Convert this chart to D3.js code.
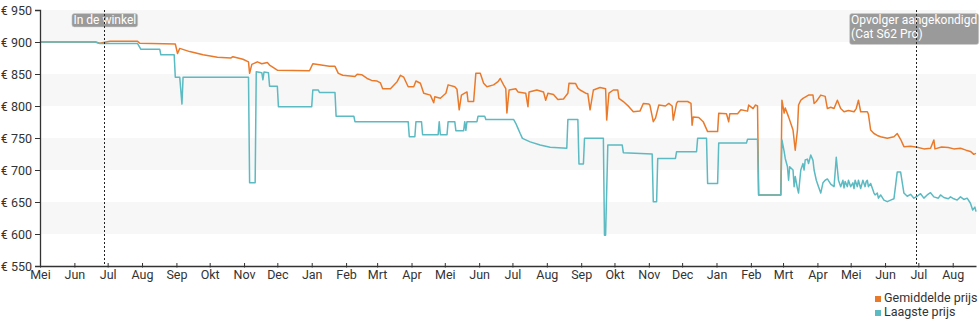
<!DOCTYPE html>
<html>
<head>
<meta charset="utf-8">
<script src="https://cdn.jsdelivr.net/npm/d3@7"></script>
<style>
  html, body { margin: 0; padding: 0; background: #fff; }
  svg { display: block; font-family: Roboto, "Noto Sans", sans-serif; }
</style>
</head>
<body>
<svg id="chart" width="980" height="325"></svg>
<script>
// Price history (EUR): average price and lowest price per date
const averagePrice = [
  ["2018-05-01", 900], ["2018-06-20", 900], ["2018-06-24", 898], ["2018-07-03", 901],
  ["2018-07-28", 901], ["2018-07-30", 898], ["2018-08-31", 897], ["2018-09-02", 882],
  ["2018-09-04", 890], ["2018-09-13", 885], ["2018-09-25", 880], ["2018-10-08", 876],
  ["2018-10-20", 875], ["2018-10-22", 877], ["2018-10-31", 873], ["2018-11-05", 869],
  ["2018-11-06", 851], ["2018-11-08", 865], ["2018-11-13", 869], ["2018-11-17", 866],
  ["2018-11-22", 868], ["2018-11-24", 864], ["2018-12-01", 856], ["2018-12-30", 855],
  ["2019-01-02", 866], ["2019-01-17", 862], ["2019-01-22", 862], ["2019-01-25", 851],
  ["2019-01-29", 848], ["2019-02-09", 846], ["2019-02-11", 849.5], ["2019-02-15", 849],
  ["2019-02-20", 843], ["2019-02-24", 840], ["2019-03-01", 839], ["2019-03-04", 836],
  ["2019-03-06", 827], ["2019-03-13", 827], ["2019-03-19", 838], ["2019-03-22", 848],
  ["2019-03-25", 845], ["2019-03-29", 830], ["2019-04-03", 830], ["2019-04-05", 839],
  ["2019-04-09", 835.5], ["2019-04-12", 820], ["2019-04-18", 817], ["2019-04-21", 805],
  ["2019-04-22", 814.5], ["2019-04-27", 812], ["2019-05-02", 820], ["2019-05-04", 833],
  ["2019-05-10", 830], ["2019-05-12", 826], ["2019-05-14", 794], ["2019-05-16", 817],
  ["2019-05-19", 820], ["2019-05-21", 822], ["2019-05-22", 807], ["2019-05-27", 807],
  ["2019-05-29", 851], ["2019-06-02", 851], ["2019-06-05", 835.5], ["2019-06-08", 830],
  ["2019-06-14", 833], ["2019-06-18", 838], ["2019-06-20", 843], ["2019-06-23", 833],
  ["2019-06-25", 827], ["2019-06-26", 789], ["2019-06-28", 825], ["2019-07-04", 827],
  ["2019-07-06", 822], ["2019-07-13", 820], ["2019-07-15", 799], ["2019-07-16", 822],
  ["2019-07-23", 825], ["2019-07-29", 822], ["2019-07-31", 809], ["2019-08-02", 820],
  ["2019-08-07", 818], ["2019-08-11", 810], ["2019-08-16", 811], ["2019-08-20", 820],
  ["2019-08-21", 835.5], ["2019-08-27", 835], ["2019-08-29", 828], ["2019-08-31", 825],
  ["2019-09-05", 820], ["2019-09-07", 819], ["2019-09-09", 794], ["2019-09-12", 825],
  ["2019-09-18", 829], ["2019-09-23", 827], ["2019-09-24", 778], ["2019-09-26", 820],
  ["2019-09-30", 825], ["2019-10-04", 825], ["2019-10-05", 812], ["2019-10-09", 807],
  ["2019-10-14", 799], ["2019-10-18", 791], ["2019-10-24", 792], ["2019-10-27", 804],
  ["2019-11-01", 803], ["2019-11-02", 801], ["2019-11-05", 775.5], ["2019-11-07", 781],
  ["2019-11-10", 801.5], ["2019-11-16", 800], ["2019-11-19", 804], ["2019-11-22", 800],
  ["2019-11-23", 778], ["2019-11-26", 804], ["2019-11-27", 807], ["2019-12-06", 807],
  ["2019-12-09", 804], ["2019-12-10", 770], ["2019-12-11", 783], ["2019-12-16", 782],
  ["2019-12-20", 775.5], ["2019-12-24", 760], ["2020-01-02", 760], ["2020-01-03", 788.5],
  ["2020-01-10", 788], ["2020-01-12", 775.5], ["2020-01-13", 788], ["2020-01-20", 788],
  ["2020-01-23", 794], ["2020-01-29", 792], ["2020-01-30", 801.5], ["2020-02-03", 796],
  ["2020-02-05", 801.5], ["2020-02-07", 800], ["2020-02-08", 661], ["2020-02-28", 661],
  ["2020-02-29", 809], ["2020-03-02", 789], ["2020-03-03", 797], ["2020-03-06", 783],
  ["2020-03-10", 762.5], ["2020-03-12", 731], ["2020-03-14", 762.5], ["2020-03-15", 801.5],
  ["2020-03-17", 809], ["2020-03-19", 812], ["2020-03-24", 817], ["2020-03-28", 817],
  ["2020-03-29", 804], ["2020-03-31", 807], ["2020-04-04", 817], ["2020-04-08", 815],
  ["2020-04-10", 796], ["2020-04-13", 798], ["2020-04-16", 796], ["2020-04-19", 809],
  ["2020-04-22", 796], ["2020-04-25", 791], ["2020-04-29", 793], ["2020-05-04", 791],
  ["2020-05-06", 796], ["2020-05-08", 809], ["2020-05-10", 791], ["2020-05-16", 791],
  ["2020-05-17", 787], ["2020-05-19", 762.5], ["2020-05-22", 757], ["2020-05-25", 754],
  ["2020-05-28", 752], ["2020-06-03", 749.5], ["2020-06-09", 752], ["2020-06-12", 757],
  ["2020-06-15", 748], ["2020-06-18", 736.5], ["2020-06-24", 737], ["2020-06-30", 735.5],
  ["2020-07-06", 733], ["2020-07-12", 734], ["2020-07-15", 747], ["2020-07-16", 733],
  ["2020-07-22", 736], ["2020-07-28", 735], ["2020-08-02", 733], ["2020-08-08", 734],
  ["2020-08-13", 731], ["2020-08-17", 729], ["2020-08-20", 724.5], ["2020-08-22", 726]
];

const lowestPrice = [
  ["2018-05-01", 900], ["2018-06-20", 900], ["2018-06-24", 897.5], ["2018-07-28", 897.5],
  ["2018-07-31", 888.5], ["2018-08-17", 888.5], ["2018-08-18", 880], ["2018-08-30", 880],
  ["2018-08-31", 845], ["2018-09-04", 845], ["2018-09-06", 803], ["2018-09-07", 845],
  ["2018-11-05", 845], ["2018-11-06", 680], ["2018-11-11", 680], ["2018-11-12", 853.6],
  ["2018-11-17", 852], ["2018-11-18", 841], ["2018-11-19", 853], ["2018-11-23", 852],
  ["2018-11-24", 831], ["2018-12-01", 831], ["2018-12-02", 799], ["2019-01-01", 799],
  ["2019-01-02", 825], ["2019-01-07", 825], ["2019-01-08", 821], ["2019-01-22", 821],
  ["2019-01-23", 784], ["2019-02-08", 784], ["2019-02-09", 775.5], ["2019-03-29", 775.5],
  ["2019-03-30", 752], ["2019-04-04", 752], ["2019-04-05", 775.5], ["2019-04-10", 775.5],
  ["2019-04-11", 755], ["2019-04-25", 755], ["2019-04-26", 775.5], ["2019-04-27", 755],
  ["2019-05-03", 755], ["2019-05-04", 775.5], ["2019-05-10", 775.5], ["2019-05-11", 761.4],
  ["2019-05-18", 761.4], ["2019-05-19", 775.5], ["2019-05-20", 762], ["2019-05-21", 775.5],
  ["2019-05-30", 775.5], ["2019-05-31", 784], ["2019-06-06", 784], ["2019-06-07", 779],
  ["2019-07-02", 779], ["2019-07-04", 773], ["2019-07-06", 765], ["2019-07-08", 757],
  ["2019-07-10", 749.5], ["2019-07-17", 744], ["2019-07-26", 739], ["2019-08-04", 735.5],
  ["2019-08-19", 734], ["2019-08-20", 779], ["2019-08-29", 779], ["2019-08-30", 709.4],
  ["2019-09-03", 709.4], ["2019-09-04", 749.5], ["2019-09-21", 749.5], ["2019-09-22", 598],
  ["2019-09-23", 598], ["2019-09-25", 739], ["2019-10-08", 739], ["2019-10-09", 727],
  ["2019-11-04", 725], ["2019-11-05", 650.5], ["2019-11-08", 650.5], ["2019-11-09", 718],
  ["2019-11-25", 718], ["2019-11-26", 728.6], ["2019-12-14", 728.6], ["2019-12-15", 749.5],
  ["2019-12-23", 749.5], ["2019-12-24", 679], ["2020-01-02", 679], ["2020-01-03", 742],
  ["2020-01-28", 742], ["2020-01-29", 748], ["2020-02-07", 748], ["2020-02-08", 661],
  ["2020-02-28", 661], ["2020-02-29", 747], ["2020-03-02", 729], ["2020-03-03", 718],
  ["2020-03-05", 705], ["2020-03-06", 684], ["2020-03-07", 705], ["2020-03-10", 700],
  ["2020-03-11", 674], ["2020-03-12", 690], ["2020-03-14", 671], ["2020-03-15", 664],
  ["2020-03-17", 700], ["2020-03-19", 710], ["2020-03-20", 700], ["2020-03-21", 715.6],
  ["2020-03-23", 717], ["2020-03-24", 710], ["2020-03-26", 723.4], ["2020-03-28", 715],
  ["2020-03-29", 700], ["2020-03-31", 684], ["2020-04-02", 674], ["2020-04-04", 664],
  ["2020-04-06", 680], ["2020-04-08", 684], ["2020-04-10", 686], ["2020-04-13", 678],
  ["2020-04-16", 674], ["2020-04-18", 720], ["2020-04-20", 684], ["2020-04-22", 674],
  ["2020-04-24", 684], ["2020-04-25", 672], ["2020-04-26", 682], ["2020-04-28", 674],
  ["2020-04-29", 684], ["2020-05-01", 674], ["2020-05-03", 680], ["2020-05-04", 671],
  ["2020-05-05", 684], ["2020-05-07", 674], ["2020-05-08", 684], ["2020-05-10", 671],
  ["2020-05-12", 684], ["2020-05-14", 674], ["2020-05-15", 682], ["2020-05-16", 684],
  ["2020-05-17", 674], ["2020-05-19", 679], ["2020-05-21", 669], ["2020-05-22", 664],
  ["2020-05-23", 661], ["2020-05-25", 664], ["2020-05-26", 656], ["2020-05-28", 661],
  ["2020-05-31", 653], ["2020-06-03", 650.5], ["2020-06-06", 653], ["2020-06-09", 655],
  ["2020-06-12", 697], ["2020-06-15", 697], ["2020-06-18", 664], ["2020-06-21", 659],
  ["2020-06-24", 662], ["2020-06-27", 656], ["2020-06-30", 659], ["2020-07-03", 663],
  ["2020-07-06", 656], ["2020-07-09", 661], ["2020-07-12", 664.5], ["2020-07-15", 658],
  ["2020-07-19", 656], ["2020-07-21", 661], ["2020-07-24", 657], ["2020-07-28", 655],
  ["2020-07-30", 658], ["2020-08-02", 655], ["2020-08-05", 653], ["2020-08-08", 658],
  ["2020-08-11", 654], ["2020-08-14", 656], ["2020-08-17", 648], ["2020-08-19", 637.5],
  ["2020-08-21", 642], ["2020-08-22", 635]
];

const yTicks = [550, 600, 650, 700, 750, 800, 850, 900, 950];
const monthNames = ["Jan", "Feb", "Mrt", "Apr", "Mei", "Jun", "Jul", "Aug", "Sep", "Okt", "Nov", "Dec"];

// Annotated events: dotted marker with a grey label
const events = [
  { date: "2018-06-28", lines: ["In de winkel"], anchor: "middle" },
  { date: "2020-06-29", lines: ["Opvolger aangekondigd", "(Cat S62 Pro)"], anchor: "start" }
];

const seriesInfo = [
  { name: "Gemiddelde prijs", data: averagePrice, color: "#ea7a2a" },
  { name: "Laagste prijs", data: lowestPrice, color: "#5bbac2" }
];

(function draw() {
  const parse = d3.timeParse("%Y-%m-%d");
  const svg = d3.select("#chart");
  const plotLeft = 40, plotRight = 976, plotTop = 10, plotBottom = 266;

  const x = d3.scaleTime()
    .domain([parse("2018-05-01"), parse("2020-08-22")])
    .range([plotLeft, plotRight]);
  const y = d3.scaleLinear().domain([550, 950]).range([plotBottom, plotTop]);

  // alternating background bands
  const bands = d3.pairs(yTicks).filter((_, i) => i % 2 === 1);
  svg.append("g").selectAll("rect").data(bands).join("rect")
    .attr("x", plotLeft).attr("width", plotRight - plotLeft)
    .attr("y", d => y(d[1])).attr("height", d => y(d[0]) - y(d[1]))
    .attr("fill", "#f7f7f7");

  // price lines
  const line = d3.line()
    .x(d => x(parse(d[0])))
    .y(d => y(d[1]));
  svg.append("g").selectAll("path").data(seriesInfo).join("path")
    .attr("d", d => line(d.data))
    .attr("fill", "none")
    .attr("stroke", d => d.color)
    .attr("stroke-width", 1.5)
    .attr("stroke-linejoin", "round");

  // event labels
  const evG = svg.append("g");
  events.forEach(ev => {
    const ex = x(parse(ev.date));
    const g = evG.append("g");
    const t = g.append("text")
      .attr("fill", "#fff")
      .attr("font-size", 12)
      .attr("text-anchor", ev.anchor);
    ev.lines.forEach((ln, i) => {
      t.append("tspan")
        .attr("x", ev.anchor === "middle" ? ex + 0.5 : ex - 65)
        .attr("y", 24 + i * 14)
        .text(ln);
    });
    const bb = t.node().getBBox();
    g.insert("rect", "text")
      .attr("x", bb.x - 1.5).attr("y", 13.5)
      .attr("width", bb.width + 3)
      .attr("height", ev.lines.length > 1 ? 31 : 13.5)
      .attr("rx", 2.5)
      .attr("fill", "#9a9a9a")
      .attr("stroke", "#d0d0d0").attr("stroke-width", 0.5);
  });

  // dotted event markers
  svg.append("g").selectAll("line").data(events).join("line")
    .attr("x1", d => Math.round(x(parse(d.date))) + 0.5)
    .attr("x2", d => Math.round(x(parse(d.date))) + 0.5)
    .attr("y1", plotTop).attr("y2", plotBottom)
    .attr("stroke", "#222").attr("stroke-width", 1)
    .attr("stroke-dasharray", "2,2");

  // y axis
  const yAxis = d3.axisLeft(y).tickValues(yTicks).tickSize(5).tickPadding(3)
    .tickFormat(d => "€ " + d);
  const yg = svg.append("g").attr("transform", `translate(${plotLeft},0)`).call(yAxis);
  yg.select(".domain").attr("stroke", "#333").attr("stroke-width", 1.3);
  yg.selectAll(".tick line").attr("stroke", "#333");
  yg.selectAll("text").attr("fill", "#333").attr("font-size", 12.5)
    .attr("font-family", "Roboto, sans-serif");

  // x axis
  const xAxis = d3.axisBottom(x).ticks(d3.timeMonth.every(1))
    .tickSize(0).tickPadding(4)
    .tickFormat(d => monthNames[d.getMonth()]);
  const xg = svg.append("g").attr("transform", `translate(0,${plotBottom})`).call(xAxis);
  xg.select(".domain").attr("stroke", "#333").attr("stroke-width", 1.3);
  xg.selectAll(".tick").append("line")
    .attr("y1", -3).attr("y2", 1.5)
    .attr("stroke", "#333");
  xg.selectAll("text").attr("fill", "#333").attr("font-size", 12.5)
    .attr("font-family", "Roboto, sans-serif");

  // legend
  const legend = svg.append("g").attr("transform", "translate(875,0)");
  const items = legend.selectAll("g").data(seriesInfo).join("g")
    .attr("transform", (d, i) => `translate(0,${296 + i * 14})`);
  items.append("rect").attr("x", 0).attr("y", 0).attr("width", 6).attr("height", 6)
    .attr("fill", d => d.color);
  items.append("text").attr("x", 9).attr("y", 6).attr("font-size", 12.5)
    .attr("fill", "#333").text(d => d.name);
})();
</script>
</body>
</html>
